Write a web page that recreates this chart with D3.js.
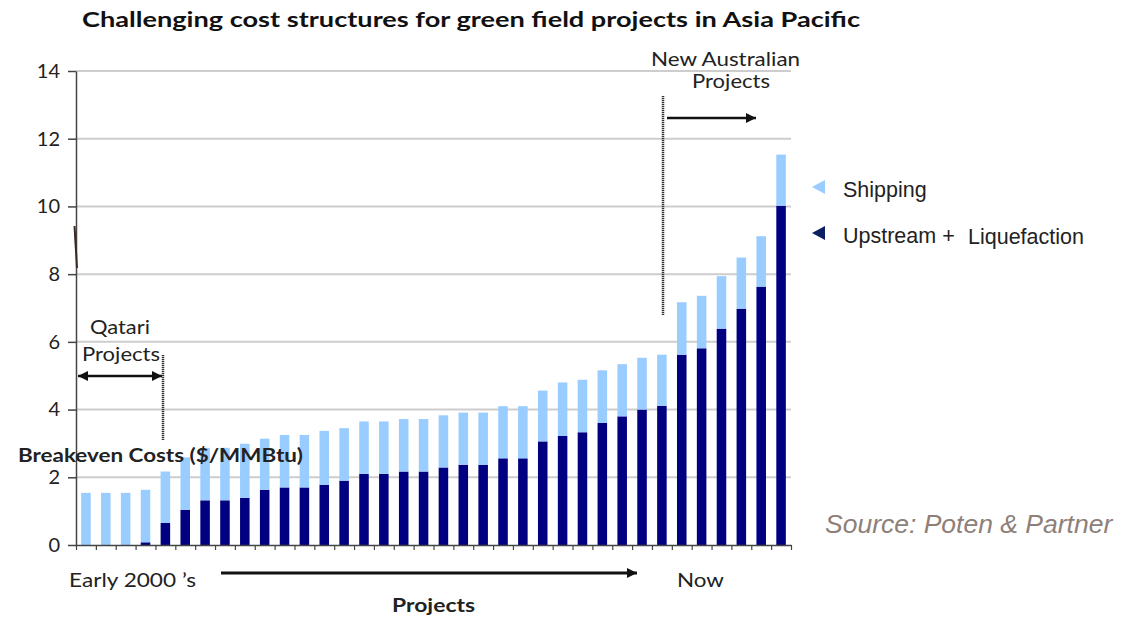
<!DOCTYPE html>
<html lang="en">
<head>
<meta charset="UTF-8">
<title>Breakeven costs</title>
<script src="https://d3js.org/d3.v7.min.js"></script>
<style>
  body { margin: 0; background: #fff; }
  .gill { font-family: Lato, "DejaVu Sans", sans-serif; }
  .arial { font-family: Arial, "Liberation Sans", sans-serif; }
</style>
</head>
<body>
<div id="chart"></div>
<script>
// one entry per project, ordered from early 2000's to now
var projects = d3.range(1, 37).map(function(i) { return "P" + i; });

// Upstream + Liquefaction ($/MMBtu)
var upstream = [0, 0, 0, 0.08, 0.65, 1.04, 1.32, 1.32, 1.39, 1.63, 1.70, 1.70,
                1.78, 1.90, 2.10, 2.10, 2.17, 2.17, 2.29, 2.37, 2.37, 2.56, 2.56, 3.06,
                3.22, 3.33, 3.61, 3.80, 4.00, 4.11, 5.62, 5.81, 6.39, 6.98, 7.63, 10.02];

// Shipping ($/MMBtu)
var shipping = [1.54, 1.54, 1.54, 1.55, 1.52, 1.55, 1.55, 1.55, 1.60, 1.51, 1.55, 1.55,
                1.59, 1.55, 1.55, 1.55, 1.55, 1.55, 1.54, 1.54, 1.54, 1.54, 1.54, 1.50,
                1.58, 1.55, 1.55, 1.54, 1.53, 1.51, 1.55, 1.55, 1.55, 1.51, 1.49, 1.51];

var yTicks = [0, 2, 4, 6, 8, 10, 12, 14];

var seriesNames = ["Upstream + Liquefaction", "Shipping"];
var colors = { "Upstream + Liquefaction": "#000080", "Shipping": "#99ccff" };

var W = 1126, H = 618;
var plotLeft = 76, plotRight = 791, plotTop = 71, plotBottom = 545;

var svg = d3.select("#chart").append("svg")
  .attr("width", W).attr("height", H);

var defs = svg.append("defs");
defs.append("marker")
  .attr("id", "head")
  .attr("viewBox", "0 0 10 10")
  .attr("refX", 10).attr("refY", 5)
  .attr("markerWidth", 14).attr("markerHeight", 10)
  .attr("markerUnits", "userSpaceOnUse")
  .attr("orient", "auto-start-reverse")
  .append("path").attr("d", "M0,0 L10,5 L0,10 z").attr("fill", "#111");

var x = d3.scaleBand()
  .domain(projects)
  .range([plotLeft, plotRight])
  .paddingInner(0.52)
  .paddingOuter(0.26);

var y = d3.scaleLinear().domain([0, 14]).range([plotBottom, plotTop]);

// grid
svg.append("g").selectAll("line")
  .data(yTicks.filter(function(d) { return d > 0; }))
  .enter().append("line")
  .attr("x1", plotLeft).attr("x2", plotRight)
  .attr("y1", function(d) { return y(d); })
  .attr("y2", function(d) { return y(d); })
  .attr("stroke", "#cdcdcd").attr("stroke-width", 2);

// stacked bars
var table = projects.map(function(p, i) {
  return { project: p, "Upstream + Liquefaction": upstream[i], "Shipping": shipping[i] };
});
var stacked = d3.stack().keys(seriesNames)(table);

svg.append("g").selectAll("g")
  .data(stacked)
  .enter().append("g")
  .attr("fill", function(d) { return colors[d.key]; })
  .selectAll("rect")
  .data(function(d) { return d; })
  .enter().append("rect")
  .attr("x", function(d) { return x(d.data.project); })
  .attr("width", x.bandwidth())
  .attr("y", function(d) { return y(d[1]); })
  .attr("height", function(d) { return y(d[0]) - y(d[1]); });

// axes
var yAxis = svg.append("g")
  .attr("transform", "translate(" + plotLeft + ",0)")
  .call(d3.axisLeft(y).tickValues(yTicks).tickSize(8).tickPadding(8).tickSizeOuter(0));
yAxis.select(".domain").attr("stroke", "#444").attr("stroke-width", 1.5);
yAxis.selectAll(".tick line").attr("stroke", "#444").attr("stroke-width", 1.5);
yAxis.selectAll(".tick text")
  .attr("class", "gill").attr("font-size", 20).attr("fill", "#222");

var xEdges = d3.scaleLinear().domain([0, projects.length]).range([plotLeft, plotRight]);
var xAxis = svg.append("g")
  .attr("transform", "translate(0," + plotBottom + ")")
  .call(d3.axisBottom(xEdges).tickValues(d3.range(projects.length + 1))
    .tickFormat("").tickSize(5).tickSizeOuter(0));
xAxis.select(".domain").attr("stroke", "#444").attr("stroke-width", 1.5);
xAxis.selectAll(".tick line").attr("stroke", "#444").attr("stroke-width", 1.2);

// stray mark near the axis
svg.append("line")
  .attr("x1", 74.5).attr("y1", 226).attr("x2", 77).attr("y2", 268)
  .attr("stroke", "#3b2a22").attr("stroke-width", 2);

// title
svg.append("text")
  .attr("class", "gill")
  .attr("x", 82).attr("y", 27)
  .attr("font-size", 21).attr("font-weight", "bold").attr("fill", "#111")
  .attr("textLength", 778).attr("lengthAdjust", "spacingAndGlyphs")
  .text("Challenging cost structures for green field projects in Asia Pacific");

// axis title overlaying the bars
svg.append("text")
  .attr("class", "gill")
  .attr("x", 18).attr("y", 462)
  .attr("font-size", 19).attr("font-weight", "bold").attr("fill", "#222")
  .attr("textLength", 285).attr("lengthAdjust", "spacingAndGlyphs")
  .text("Breakeven Costs ($/MMBtu)");

// annotation helper: text stretched to the width seen in the reference
function note(str, xPos, yPos, width) {
  return svg.append("text")
    .attr("class", "gill")
    .attr("x", xPos).attr("y", yPos)
    .attr("font-size", 20).attr("fill", "#222")
    .attr("textLength", width).attr("lengthAdjust", "spacingAndGlyphs")
    .text(str);
}

function dotted(xPos, y1, y2) {
  svg.append("line")
    .attr("x1", xPos).attr("x2", xPos).attr("y1", y1).attr("y2", y2)
    .attr("stroke", "#333").attr("stroke-width", 2.5).attr("stroke-dasharray", "1.2,0.8");
}

// Qatari annotation
note("Qatari", 90, 334, 60);
note("Projects", 82, 361, 78);
svg.append("line")
  .attr("x1", 78).attr("x2", 162).attr("y1", 376).attr("y2", 376)
  .attr("stroke", "#111").attr("stroke-width", 2.5)
  .attr("marker-start", "url(#head)").attr("marker-end", "url(#head)");
dotted(163, 355, 440);

// New Australian annotation
note("New Australian", 651, 66, 149);
note("Projects", 692, 88, 78);
dotted(663, 96, 315);
svg.append("line")
  .attr("x1", 667).attr("x2", 756).attr("y1", 118).attr("y2", 118)
  .attr("stroke", "#111").attr("stroke-width", 2.5)
  .attr("marker-end", "url(#head)");

// bottom labels
note("Early 2000 \u2019s", 69, 587, 127);
note("Now", 677, 587, 47);
svg.append("line")
  .attr("x1", 221).attr("x2", 637).attr("y1", 573).attr("y2", 573)
  .attr("stroke", "#111").attr("stroke-width", 3)
  .attr("marker-end", "url(#head)");
svg.append("text")
  .attr("class", "gill")
  .attr("x", 392).attr("y", 612)
  .attr("font-size", 19).attr("font-weight", "bold").attr("fill", "#222")
  .attr("textLength", 83).attr("lengthAdjust", "spacingAndGlyphs")
  .text("Projects");

// legend
var legendItems = [
  { color: "#99ccff", y: 187, label: ["Shipping"] },
  { color: "#0d1f63", y: 233, label: ["Upstream +", "Liquefaction"] }
];
legendItems.forEach(function(d) {
  svg.append("path")
    .attr("d", "M812," + d.y + " L825," + (d.y - 7) + " L825," + (d.y + 7) + " z")
    .attr("fill", d.color);
  svg.append("text").attr("class", "arial")
    .attr("x", 843).attr("y", d.y + 10)
    .attr("font-size", 21.5).attr("fill", "#222")
    .text(d.label[0]);
  if (d.label[1]) {
    svg.append("text").attr("class", "arial")
      .attr("x", 968).attr("y", d.y + 11)
      .attr("font-size", 21.5).attr("fill", "#222")
      .text(d.label[1]);
  }
});

// source
svg.append("text")
  .attr("class", "arial")
  .attr("x", 825).attr("y", 533)
  .attr("font-size", 26.5).attr("font-style", "italic").attr("fill", "#8e8078")
  .text("Source: Poten & Partner");
</script>
</body>
</html>
